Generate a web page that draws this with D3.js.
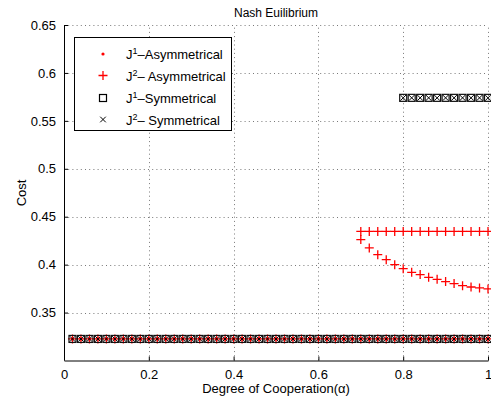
<!DOCTYPE html>
<html><head><meta charset="utf-8">
<script src="https://cdn.jsdelivr.net/npm/d3@7"></script>
<style>body{margin:0;background:#fff}svg{display:block}text{font-family:"Liberation Sans",Arial,sans-serif}</style>
</head><body><svg id="c" width="491" height="403"></svg>
<script>
// ---- data ----
const alphaAll = [0.02,0.04,0.06,0.08,0.10,0.12,0.14,0.16,0.18,0.20,0.22,0.24,0.26,0.28,0.30,0.32,0.34,0.36,0.38,0.40,0.42,0.44,0.46,0.48,0.50,0.52,0.54,0.56,0.58,0.60,0.62,0.64,0.66,0.68,0.70,0.72,0.74,0.76,0.78,0.80,0.82,0.84,0.86,0.88,0.90,0.92,0.94,0.96,0.98,1.00];
const lowCost = [0.3225,0.3225,0.3225,0.3225,0.3225,0.3225,0.3225,0.3225,0.3225,0.3225,0.3225,0.3225,0.3225,0.3225,0.3225,0.3225,0.3225,0.3225,0.3225,0.3225,0.3225,0.3225,0.3225,0.3225,0.3225,0.3225,0.3225,0.3225,0.3225,0.3225,0.3225,0.3225,0.3225,0.3225,0.3225,0.3225,0.3225,0.3225,0.3225,0.3225,0.3225,0.3225,0.3225,0.3225,0.3225,0.3225,0.3225,0.3225,0.3225,0.3225];
const alphaHigh = [0.70,0.72,0.74,0.76,0.78,0.80,0.82,0.84,0.86,0.88,0.90,0.92,0.94,0.96,0.98,1.00];
const j2AsymUpper = [0.4347,0.4347,0.4347,0.4347,0.4347,0.4347,0.4347,0.4347,0.4347,0.4347,0.4347,0.4347,0.4347,0.4347,0.4347,0.4347];
const j2AsymCurve = [0.4261,0.4174,0.4104,0.4052,0.4000,0.3958,0.3920,0.3896,0.3868,0.3847,0.3823,0.3802,0.3781,0.3767,0.3757,0.3747];
const alphaSym = [0.80,0.82,0.84,0.86,0.88,0.90,0.92,0.94,0.96,0.98,1.00];
const symUpper = [0.574,0.574,0.574,0.574,0.574,0.574,0.574,0.574,0.574,0.574,0.574];
const xTicks = [0,0.2,0.4,0.6,0.8,1];
const yTicks = [0.35,0.4,0.45,0.5,0.55,0.6,0.65];
const legendLabels = [["J","1","\u2013Asymmetrical"],["J","2","\u2013 Asymmetrical"],["J","1","\u2013Symmetrical"],["J","2","\u2013 Symmetrical"]];

// ---- chart ----
const svg = d3.select("#c");
const x = d3.scaleLinear().domain([0,1]).range([64,488]);
const y = d3.scaleLinear().domain([0.30,0.65]).range([360.5,25]);

// grid
const grid = svg.append("g").attr("stroke","#555").attr("stroke-width",0.8).attr("stroke-dasharray","1,3.2");
grid.selectAll(".gx").data(xTicks.slice(1)).join("line")
  .attr("x1",d=>Math.round(x(d))+0.5).attr("x2",d=>Math.round(x(d))+0.5).attr("y1",y.range()[0]).attr("y2",y(0.65));
grid.selectAll(".gy").data(yTicks).join("line")
  .attr("y1",d=>Math.round(y(d))+0.5).attr("y2",d=>Math.round(y(d))+0.5).attr("x1",x(0)).attr("x2",x(1));

// axes
const xAxis = d3.axisBottom(x).tickValues(xTicks).tickFormat(d3.format("")).tickSizeInner(-4).tickSizeOuter(0).tickPadding(9);
const yAxis = d3.axisLeft(y).tickValues(yTicks).tickFormat(d=>String(d)).tickSizeInner(-4).tickSizeOuter(0).tickPadding(8);
const gx = svg.append("g").attr("transform",`translate(0,${y.range()[0]})`).call(xAxis);
const gy = svg.append("g").attr("transform",`translate(${x(0)},0)`).call(yAxis);
[gx,gy].forEach(g=>{
  g.select(".domain").attr("stroke","#000").attr("stroke-width",1);
  g.selectAll(".tick line").attr("stroke","#000");
  g.selectAll(".tick text").attr("font-size",13).attr("fill","#000").attr("font-family","Liberation Sans, Arial, sans-serif");
});
gy.select(".domain").attr("d",`M0.5,${y.range()[0]}V${y(0.65)}`);

// marker helpers
function dots(g,xs,ys){g.selectAll(null).data(xs).join("circle").attr("cx",(d)=>x(d)).attr("cy",(d,i)=>y(ys[i])).attr("r",1.6).attr("fill","#f00");}
function pluses(g,xs,ys){g.selectAll(null).data(xs).join("path").attr("d",(d,i)=>{const cx=x(d),cy=y(ys[i]),s=4.5;return `M${cx-s},${cy}H${cx+s}M${cx},${cy-s}V${cy+s}`;}).attr("stroke","#f00").attr("stroke-width",1.3).attr("fill","none");}
function squares(g,xs,ys){g.selectAll(null).data(xs).join("rect").attr("x",d=>x(d)-3.5).attr("y",(d,i)=>y(ys[i])-3.5).attr("width",7).attr("height",7).attr("stroke","#111").attr("stroke-width",1.2).attr("fill","none");}
function crosses(g,xs,ys){g.selectAll(null).data(xs).join("path").attr("d",(d,i)=>{const cx=x(d),cy=y(ys[i]),s=2.8;return `M${cx-s},${cy-s}L${cx+s},${cy+s}M${cx-s},${cy+s}L${cx+s},${cy-s}`;}).attr("stroke","#000").attr("stroke-width",1).attr("fill","none");}

const m = svg.append("g");
dots(m.append("g"),alphaAll,lowCost);
pluses(m.append("g"),alphaAll,lowCost);
pluses(m.append("g"),alphaHigh,j2AsymUpper);
pluses(m.append("g"),alphaHigh,j2AsymCurve);
squares(m.append("g"),alphaAll,lowCost);
squares(m.append("g"),alphaSym,symUpper);
crosses(m.append("g"),alphaAll,lowCost);
crosses(m.append("g"),alphaSym,symUpper);

// titles
svg.append("text").attr("x",276).attr("y",17).attr("text-anchor","middle").attr("font-size",12).text("Nash Euilibrium");
svg.append("text").attr("x",276).attr("y",393).attr("text-anchor","middle").attr("font-size",13).text("Degree of Cooperation(\u03b1)");
svg.append("text").attr("transform","translate(26,193) rotate(-90)").attr("text-anchor","middle").attr("font-size",13).text("Cost");

// legend
const lg = svg.append("g");
lg.append("rect").attr("x",74.5).attr("y",37.5).attr("width",157).attr("height",93).attr("fill","#fff").attr("stroke","#000").attr("stroke-width",1);
const ly = [54,75.5,98,119.5];
legendLabels.forEach((lab,i)=>{
  const t = lg.append("text").attr("x",126).attr("y",ly[i]+5).attr("font-size",13);
  t.append("tspan").text(lab[0]);
  t.append("tspan").attr("dy",-5).attr("font-size",9).text(lab[1]);
  t.append("tspan").attr("dy",5).text(lab[2]);
});
const lx = 103;
lg.append("circle").attr("cx",lx).attr("cy",ly[0]).attr("r",1.6).attr("fill","#f00");
lg.append("path").attr("d",`M${lx-4.5},${ly[1]}H${lx+4.5}M${lx},${ly[1]-4.5}V${ly[1]+4.5}`).attr("stroke","#f00").attr("stroke-width",1.3);
lg.append("rect").attr("x",lx-3.5).attr("y",ly[2]-3.5).attr("width",7).attr("height",7).attr("stroke","#000").attr("stroke-width",1.2).attr("fill","none");
lg.append("path").attr("d",`M${lx-2.8},${ly[3]-2.8}L${lx+2.8},${ly[3]+2.8}M${lx-2.8},${ly[3]+2.8}L${lx+2.8},${ly[3]-2.8}`).attr("stroke","#000");
</script></body></html>
